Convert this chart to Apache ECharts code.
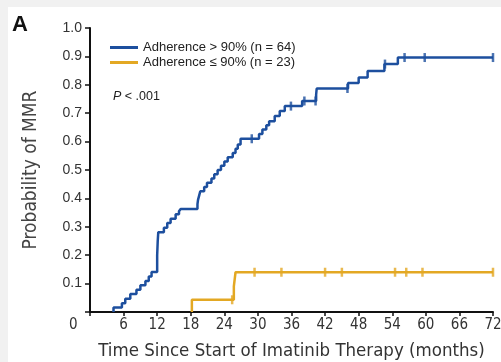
<!DOCTYPE html>
<html>
<head>
<meta charset="utf-8">
<script src="https://cdn.jsdelivr.net/npm/echarts@6/dist/echarts.min.js"></script>
<style>
html,body{margin:0;padding:0;background:#fff;}
#chart{width:501px;height:362px;}
</style>
</head>
<body>
<div id="chart"></div>
<script>
// ---- data ----
var xTicks = [6, 12, 18, 24, 30, 36, 42, 48, 54, 60, 66, 72];
var yTicks = [0.1, 0.2, 0.3, 0.4, 0.5, 0.6, 0.7, 0.8, 0.9, 1.0];
var seriesNames = ['Adherence > 90% (n = 64)', 'Adherence \u2264 90% (n = 23)'];

var highTimes = [4.2, 5.7, 6.3, 7.2, 8.3, 9.0, 9.9, 10.5, 11.0, 12.0, 12.1, 12.2, 13.2, 13.8, 14.4, 15.3, 15.9, 16.2,
  19.2, 19.3, 19.5, 19.7, 20.4, 20.9, 21.7, 22.2, 22.8, 23.4, 24.0, 24.6, 25.5, 26.0, 26.4, 26.9,
  30.2, 30.8, 31.5, 32.0, 33.0, 33.9, 34.8, 37.9, 40.4, 40.5, 46.1, 48.0, 49.6, 52.6, 55.0];
var highProb = [0.016, 0.031, 0.047, 0.063, 0.078, 0.094, 0.109, 0.125, 0.141, 0.20, 0.25, 0.281, 0.297, 0.313, 0.328, 0.344, 0.355, 0.363,
  0.38, 0.395, 0.41, 0.425, 0.44, 0.455, 0.47, 0.485, 0.50, 0.515, 0.53, 0.545, 0.56, 0.575, 0.59, 0.61,
  0.627, 0.643, 0.658, 0.672, 0.69, 0.708, 0.725, 0.743, 0.765, 0.787, 0.806, 0.826, 0.849, 0.873, 0.896];
var highCensored = [28.9, 35.9, 38.3, 40.3, 46.0, 52.7, 56.2, 59.8, 72];

var lowTimes = [18.2, 25.7, 26.0];
var lowProb = [0.043, 0.09, 0.14];
var lowCensored = [25.4, 29.4, 34.2, 42.0, 45.0, 54.5, 56.5, 59.4, 72];

var xMax = 72;
var colHigh = '#1d4f9e';
var colLow = '#e3a823';

// ---- helpers ----
function stepData(times, probs) {
  var d = [[times[0], 0]];
  for (var i = 0; i < times.length; i++) d.push([times[i], probs[i]]);
  d.push([xMax, probs[probs.length - 1]]);
  return d;
}
function valueAt(times, probs, t) {
  var v = 0;
  for (var i = 0; i < times.length; i++) if (times[i] <= t) v = probs[i];
  return v;
}
function censorData(times, probs, cens) {
  return cens.map(function (t) { return [t, valueAt(times, probs, t)]; });
}

var narrow = "'Liberation Sans Narrow', 'DejaVu Sans Condensed', 'Liberation Sans', sans-serif";
var sans = "'Liberation Sans', Arial, sans-serif";

var chart = echarts.init(document.getElementById('chart'), null, {renderer: 'canvas'});
chart.setOption({
  backgroundColor: '#f1f1f1',
  animation: false,
  grid: {left: 90, right: 8, top: 28, bottom: 50, containLabel: false, outerBoundsMode: 'none'},
  legend: {
    data: seriesNames.map(function (n) { return {name: n, icon: 'rect'}; }),
    orient: 'vertical',
    left: 110, top: 41, padding: 0,
    itemWidth: 28, itemHeight: 3, itemGap: 2,
    textStyle: {fontSize: 13, color: '#222', fontFamily: sans}
  },
  graphic: [
    {type: 'rect', left: 8, top: 7, shape: {width: 493, height: 355}, style: {fill: '#ffffff'}, z: -10, silent: true},
    {type: 'text', left: 12, top: 14, style: {text: 'A', font: "bold 22px 'Liberation Sans', Arial, sans-serif", fill: '#111'}},
    {type: 'text', left: 113, top: 90, style: {
      text: '{i|P} < .001',
      rich: {i: {fontStyle: 'italic', fontSize: 12.5, fontFamily: sans, fill: '#222'}},
      font: "12.5px 'Liberation Sans', Arial, sans-serif", fill: '#222'}},
    {type: 'text', left: 69, top: 318, style: {text: '0', font: "15px " + narrow, fill: '#333'}}
  ],
  xAxis: {
    type: 'value', min: 0, max: xMax, interval: 6,
    name: 'Time Since Start of Imatinib Therapy (months)',
    nameLocation: 'middle', nameGap: 30,
    nameTextStyle: {fontSize: 18.5, color: '#333', fontFamily: narrow},
    axisLine: {show: true, onZero: false, lineStyle: {color: '#111', width: 2}},
    axisTick: {show: true, length: 4, lineStyle: {color: '#111', width: 1.5}},
    axisLabel: {fontSize: 15, color: '#333', fontFamily: narrow, margin: 6,
      formatter: function (v) { return xTicks.indexOf(v) >= 0 ? String(v) : ''; }},
    splitLine: {show: false}
  },
  yAxis: {
    type: 'value', min: 0, max: 1, interval: 0.1,
    name: 'Probability of MMR',
    nameLocation: 'middle', nameGap: 49, nameRotate: 90,
    nameTextStyle: {fontSize: 19, color: '#444', fontFamily: narrow},
    axisLine: {show: true, lineStyle: {color: '#111', width: 2}},
    axisTick: {show: true, length: 5, lineStyle: {color: '#111', width: 1.5},
      interval: function (i, v) { return v !== 0; }},
    axisLabel: {fontSize: 14, color: '#333', fontFamily: sans, margin: 8,
      formatter: function (v) {
        for (var i = 0; i < yTicks.length; i++) if (Math.abs(yTicks[i] - v) < 1e-6) return yTicks[i].toFixed(1);
        return '';
      }},
    splitLine: {show: false}
  },
  series: [
    {name: seriesNames[0], type: 'line', step: 'end', showSymbol: false, color: colHigh,
      lineStyle: {width: 2.5, color: colHigh}, data: stepData(highTimes, highProb), z: 3},
    {name: seriesNames[1], type: 'line', step: 'end', showSymbol: false, color: colLow,
      lineStyle: {width: 2.5, color: colLow}, data: stepData(lowTimes, lowProb), z: 3},
    {name: 'censHigh', type: 'scatter', symbol: 'rect', symbolSize: [2.5, 9], itemStyle: {color: colHigh},
      data: censorData(highTimes, highProb, highCensored), z: 4},
    {name: 'censLow', type: 'scatter', symbol: 'rect', symbolSize: [2.5, 9], itemStyle: {color: colLow},
      data: censorData(lowTimes, lowProb, lowCensored), z: 4}
  ]
});
</script>
</body>
</html>
